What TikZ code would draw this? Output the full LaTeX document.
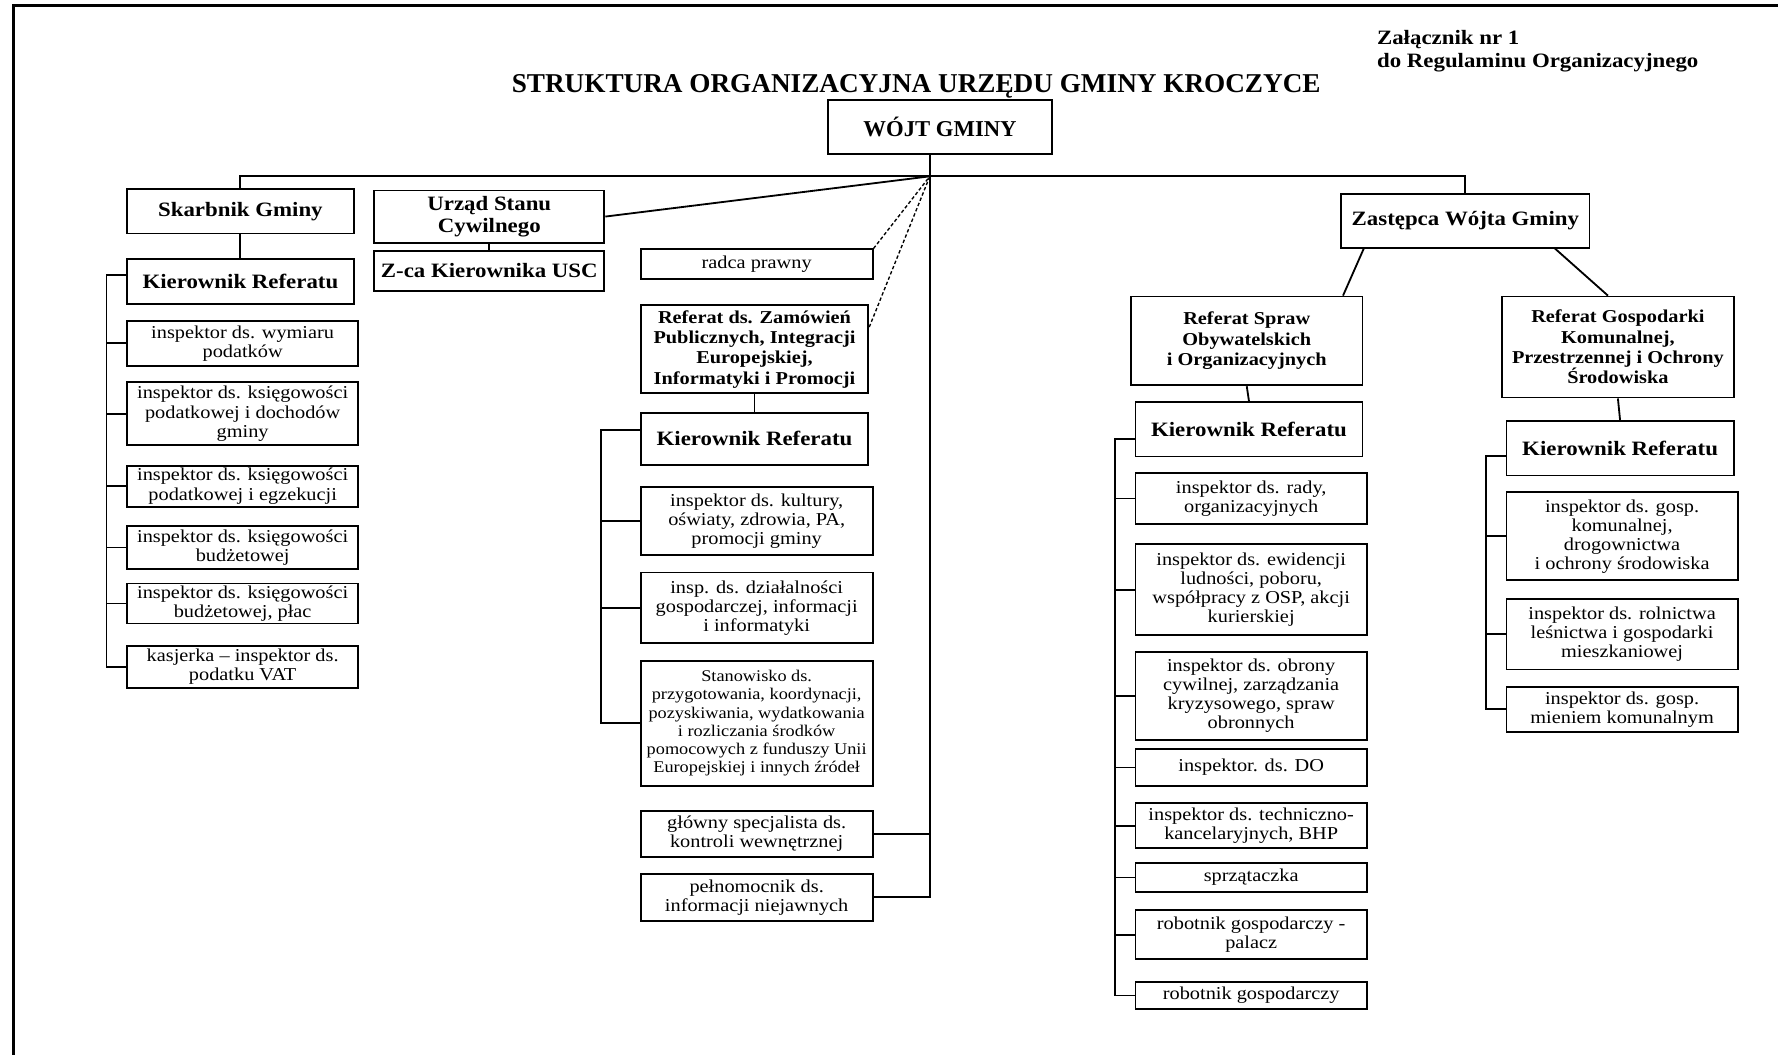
\documentclass[tikz,border=0pt]{standalone}
\usepackage{fontspec}
\setmainfont{Liberation Serif}[FakeStretch=1.12]
\newfontfamily\titlefont{Liberation Serif}

% ramka komorki: [styl]{x1}{y1}{x2}{y2}{nazwa}{tekst}
\newcommand{\orgbox}[7][]{%
  \pgfmathsetmacro{\bw}{(#4-#2)*0.5}%
  \pgfmathsetmacro{\bh}{(#5-#3)*0.5}%
  \node[unit,#1,minimum width=\bw pt,minimum height=\bh pt] (#6) at ({(#2+#4)/2},{(#3+#5)/2}) {#7};%
}

\begin{document}
\begin{tikzpicture}[x=0.5pt,y=-0.5pt,
    unit/.style={draw,line width=0.8pt,align=center,inner sep=1pt,font=\fontsize{8}{8.4}\selectfont},
    boldhead/.style={font=\fontsize{9}{9.5}\selectfont\bfseries},
    refhead/.style={font=\fontsize{8}{9}\selectfont\bfseries},
    smalltxt/.style={font=\fontsize{7.2}{8}\selectfont},
    link/.style={line width=0.8pt},
    dotlink/.style={line width=0.6pt,dash pattern=on 1.5pt off 1pt}]
\useasboundingbox (0,0) rectangle (1568,930);
%\draw[red] (0,0) rectangle (1568,930);
\draw[line width=1.2pt] (1568,5) -- (12,5) -- (12,930);

\node[font={\titlefont\fontsize{12}{14}\selectfont\bfseries}] (title) at (808,76.5) {STRUKTURA ORGANIZACYJNA URZĘDU GMINY KROCZYCE};
\node[anchor=north west,inner sep=0pt,align=left,font=\fontsize{9}{10.5}\selectfont\bfseries] (annex) at (1214,26) {Załącznik nr 1\\do Regulaminu Organizacyjnego};

\orgbox[font={\titlefont\fontsize{10}{12}\selectfont\bfseries}]{730}{88}{928}{136}{wojt}{WÓJT GMINY}
\coordinate (hub) at (820,155.5);

% skarbnik
\orgbox[boldhead]{112}{167}{312}{206}{skarb}{Skarbnik Gminy}
\orgbox[boldhead]{112}{228.4}{312}{268}{kl}{Kierownik Referatu}
\foreach \nm/\ya/\yb/\txt in {l1/282.8/322.8/{inspektor ds. wymiaru\\podatków},
    l2/337.2/392.4/{inspektor ds. księgowości\\podatkowej i dochodów\\gminy},
    l3/410.7/446.8/{inspektor ds. księgowości\\podatkowej i egzekucji},
    l4/463.9/501.8/{inspektor ds. księgowości\\budżetowej},
    l5/514.7/549.7/{inspektor ds. księgowości\\budżetowej, płac},
    l6/569.4/607/{kasjerka – inspektor ds.\\podatku VAT}}{
  \orgbox{112}{\ya}{316}{\yb}{\nm}{\txt}
}

% usc
\orgbox[boldhead]{330}{168}{533}{214}{usc}{Urząd Stanu\\Cywilnego}
\orgbox[boldhead]{330}{221.4}{533}{256.4}{zusc}{Z-ca Kierownika USC}

% srodek
\orgbox{565}{219.9}{769.6}{246.3}{radca}{radca prawny}
\orgbox[refhead]{565}{269.3}{765.8}{346.9}{zam}{Referat ds. Zamówień\\Publicznych, Integracji\\Europejskiej,\\Informatyki i Promocji}
\orgbox[boldhead]{565}{364}{765.8}{410}{km}{Kierownik Referatu}
\foreach \nm/\ya/\yb/\txt in {m1/429.8/489.5/{inspektor ds. kultury,\\oświaty, zdrowia, PA,\\promocji gminy},
    m2/504.8/567.4/{insp. ds. działalności\\gospodarczej, informacji\\i informatyki},
    m4/715.5/755.5/{główny specjalista ds.\\kontroli wewnętrznej},
    m5/770.8/812/{pełnomocnik ds.\\informacji niejawnych}}{
  \orgbox{565}{\ya}{769.6}{\yb}{\nm}{\txt}
}
\orgbox[smalltxt]{565}{582.7}{769.6}{692.9}{m3}{Stanowisko ds.\\przygotowania, koordynacji,\\pozyskiwania, wydatkowania\\i rozliczania środków\\pomocowych z funduszy Unii\\Europejskiej i innych źródeł}

% zastepca
\orgbox[boldhead]{1182.8}{171.1}{1401.7}{218.4}{zast}{Zastępca Wójta Gminy}
\orgbox[refhead]{997.5}{261.5}{1201.5}{339.8}{rso}{Referat Spraw\\Obywatelskich\\i Organizacyjnych}
\orgbox[refhead]{1324.6}{261.5}{1529}{350.6}{rgk}{Referat Gospodarki\\Komunalnej,\\Przestrzennej i Ochrony\\Środowiska}
\orgbox[boldhead]{1001.4}{354.6}{1201.5}{402.6}{kr1}{Kierownik Referatu}
\orgbox[boldhead]{1328.5}{371.6}{1529}{419.3}{kr2}{Kierownik Referatu}
\foreach \nm/\ya/\yb/\txt in {r1/417.4/462/{inspektor ds. rady,\\organizacyjnych},
    r2/480/560.1/{inspektor ds. ewidencji\\ludności, poboru,\\współpracy z OSP, akcji\\kurierskiej},
    r3/574.9/652.6/{inspektor ds. obrony\\cywilnej, zarządzania\\kryzysowego, spraw\\obronnych},
    r4/660.8/692.9/{inspektor. ds. DO},
    r5/708.5/747.9/{inspektor ds. techniczno-\\kancelaryjnych, BHP},
    r6/761.4/786.4/{sprzątaczka},
    r7/802.8/845.8/{robotnik gospodarczy -\\palacz},
    r8/865.8/890.1/{robotnik gospodarczy}}{
  \orgbox{1001.4}{\ya}{1205.4}{\yb}{\nm}{\txt}
}
\foreach \nm/\ya/\yb/\txt in {g1/434.2/511.7/{inspektor ds. gosp.\\komunalnej,\\drogownictwa\\i ochrony środowiska},
    g2/527.9/590.4/{inspektor ds. rolnictwa\\leśnictwa i gospodarki\\mieszkaniowej},
    g3/605.6/645.3/{inspektor ds. gosp.\\mieniem komunalnym}}{
  \orgbox{1328.5}{\ya}{1532.5}{\yb}{\nm}{\txt}
}

% polaczenia
\draw[link] (wojt.south -| hub) -- (hub);
\draw[link] (skarb.north) -- (skarb.north |- hub) -- (zast.north |- hub) -- (zast.north);
\draw[link] (hub) -- (m5.east -| hub) -- (m5.east);
\draw[link] (m4.east) -- (m4.east -| hub);
\draw[link] (usc.east) -- (hub);
\draw[dotlink] (radca.north east) -- (hub);
\draw[dotlink] (zam.11) -- (hub);
\draw[link] (skarb.south) -- (kl.north);
\draw[link] (usc.south) -- (zusc.north);
\draw[link] (zam.south) -- (km.north);
\draw[link] ([xshift=10.35pt]zast.south west) -- ([xshift=-8.95pt]rso.north east);
\draw[link] ([xshift=-15.6pt]zast.south east) -- ([xshift=-4.4pt]rgk.north);
\draw[link] (rso.south) -- (kr1.north);
\draw[link] (rgk.south) -- (kr2.north);

% listy podleglych
\coordinate (lbar) at (94,0);
\draw[link] ([yshift=3pt]kl.west) -- ([yshift=3pt]kl.west -| lbar) -- (l6.west -| lbar) -- (l6.west);
\foreach \i in {1,...,5} \draw[link] (l\i.west) -- (l\i.west -| lbar);
\coordinate (mbar) at (530,0);
\draw[link] ([yshift=4pt]km.west) -- ([yshift=4pt]km.west -| mbar) -- (m3.west -| mbar) -- (m3.west);
\foreach \i in {1,2} \draw[link] (m\i.west) -- (m\i.west -| mbar);
\coordinate (rbar) at (983.4,0);
\draw[link] ([yshift=-4.3pt]kr1.west) -- ([yshift=-4.3pt]kr1.west -| rbar) -- (r8.west -| rbar) -- (r8.west);
\foreach \i in {1,...,7} \draw[link] (r\i.west) -- (r\i.west -| rbar);
\coordinate (gbar) at (1310.5,0);
\draw[link] ([yshift=-3.5pt]kr2.west) -- ([yshift=-3.5pt]kr2.west -| gbar) -- (g3.west -| gbar) -- (g3.west);
\foreach \i in {1,2} \draw[link] (g\i.west) -- (g\i.west -| gbar);
\end{tikzpicture}
\end{document}
